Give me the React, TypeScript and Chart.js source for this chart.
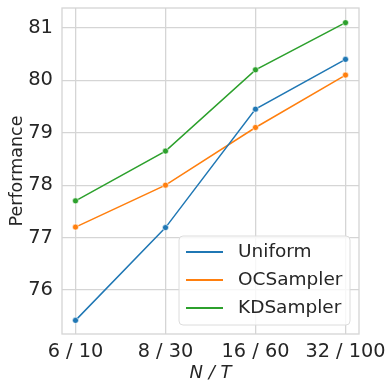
import React, { useEffect, useRef } from "react";
import { Chart, registerables } from "chart.js";

Chart.register(...registerables);

const categories = ["6 / 10", "8 / 30", "16 / 60", "32 / 100"];
const uniform = [75.42, 77.19, 79.45, 80.4];
const ocSampler = [77.2, 78.0, 79.1, 80.1];
const kdSampler = [77.7, 78.65, 80.2, 81.1];
const yTicks = [76, 77, 78, 79, 80, 81];
const seriesNames = ["Uniform", "OCSampler", "KDSampler"];
const seriesColors = ["#1f77b4", "#ff7f0e", "#2ca02c"];

const FONT = "'DejaVu Sans', sans-serif";
const TEXT = "#262626";
const GRID = "#d5d5d5";

const framePlugin = {
  id: "frame",
  afterDatasetsDraw(chart: any) {
    const { ctx, chartArea: a } = chart;
    ctx.save();
    ctx.strokeStyle = GRID;
    ctx.lineWidth = 1.3;
    ctx.strokeRect(a.left, a.top, a.right - a.left, a.bottom - a.top);
    ctx.restore();
  },
};

const legendPlugin = {
  id: "insideLegend",
  afterDraw(chart: any) {
    const { ctx, chartArea: a } = chart;
    const boxW = 171;
    const boxH = 89;
    const x = a.right - 9 - boxW;
    const y = a.bottom - 9 - boxH;
    ctx.save();
    ctx.beginPath();
    const r = 4;
    ctx.moveTo(x + r, y);
    ctx.arcTo(x + boxW, y, x + boxW, y + boxH, r);
    ctx.arcTo(x + boxW, y + boxH, x, y + boxH, r);
    ctx.arcTo(x, y + boxH, x, y, r);
    ctx.arcTo(x, y, x + boxW, y, r);
    ctx.closePath();
    ctx.fillStyle = "rgba(255,255,255,0.8)";
    ctx.fill();
    ctx.strokeStyle = "#dcdcdc";
    ctx.lineWidth = 1;
    ctx.stroke();
    ctx.font = `18.5px ${FONT}`;
    ctx.textBaseline = "middle";
    ctx.textAlign = "left";
    chart.data.datasets.forEach((ds: any, i: number) => {
      const cy = y + 16 + i * 28;
      ctx.strokeStyle = ds.borderColor;
      ctx.lineWidth = 2;
      ctx.beginPath();
      ctx.moveTo(x + 7, cy);
      ctx.lineTo(x + 44, cy);
      ctx.stroke();
      ctx.fillStyle = TEXT;
      ctx.fillText(ds.label, x + 59, cy);
    });
    ctx.restore();
  },
};

const zeroPad = (s: any) => {
  s.paddingTop = 0;
  s.paddingBottom = 0;
  s.paddingLeft = 0;
  s.paddingRight = 0;
};

export default function App() {
  const ref = useRef<HTMLCanvasElement>(null);
  useEffect(() => {
    if (!ref.current) return;
    const seriesData = [uniform, ocSampler, kdSampler];
    const chart = new Chart(ref.current, {
      type: "line",
      data: {
        datasets: seriesData.map((vals, i) => ({
          label: seriesNames[i],
          data: vals.map((v, j) => ({ x: j, y: v })),
          borderColor: seriesColors[i],
          backgroundColor: seriesColors[i],
          pointBorderColor: "#ffffff",
          pointBorderWidth: 0.6,
          pointRadius: 3,
          borderWidth: 1.5,
          tension: 0,
        })),
      },
      options: {
        animation: false,
        responsive: false,
        layout: { padding: { left: 0, right: 27, top: 8, bottom: 0 } },
        plugins: { legend: { display: false }, tooltip: { enabled: false } },
        scales: {
          x: {
            type: "linear",
            min: -0.15,
            max: 3.15,
            afterBuildTicks: (s: any) => {
              s.ticks = categories.map((_, i) => ({ value: i }));
            },
            afterFit: (s: any) => {
              s.height = 46;
              zeroPad(s);
            },
            ticks: {
              callback: (v: any) => categories[v as number] ?? "",
              font: { family: FONT, size: 19.3 },
              color: TEXT,
              padding: 6,
              maxRotation: 0,
              autoSkip: false,
            },
            grid: { color: GRID, lineWidth: 1.3, drawTicks: false },
            border: { display: false },
            title: {
              display: true,
              text: "N / T",
              font: { family: FONT, size: 18, style: "italic", lineHeight: 0.75 },
              color: TEXT,
              padding: 0,
            },
          },
          y: {
            type: "linear",
            min: 75.16,
            max: 81.38,
            afterBuildTicks: (s: any) => {
              s.ticks = yTicks.map((v) => ({ value: v }));
            },
            afterFit: (s: any) => {
              s.width = 62;
              zeroPad(s);
            },
            ticks: {
              font: { family: FONT, size: 19.5 },
              color: TEXT,
              padding: 9,
            },
            grid: { color: GRID, lineWidth: 1.3, drawTicks: false },
            border: { display: false },
            title: {
              display: true,
              text: "Performance",
              font: { family: FONT, size: 17.5 },
              color: TEXT,
              padding: { top: 6.5, bottom: 0 },
            },
          },
        },
      },
      plugins: [framePlugin, legendPlugin],
    });
    return () => chart.destroy();
  }, []);
  return (
    <div style={{ position: "absolute", left: 0, top: 0, width: 386, height: 380, background: "#fff" }}>
      <canvas ref={ref} width={386} height={380} style={{ width: 386, height: 380 }} />
    </div>
  );
}
